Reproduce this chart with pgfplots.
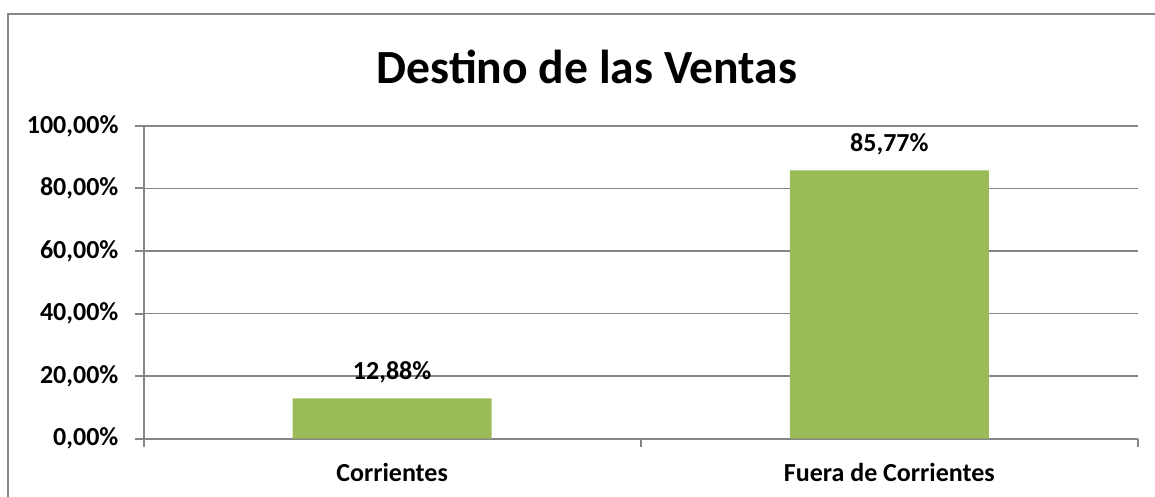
\documentclass[border=0pt]{standalone}
\usepackage{pgfplots}
\pgfplotsset{compat=1.18}
\usepackage{fontspec}
\setmainfont{Carlito}
\definecolor{bargreen}{HTML}{9BBB59}
\definecolor{gridgray}{HTML}{868686}
\begin{document}
\begin{tikzpicture}
\useasboundingbox (0,0) rectangle (577.5pt,-248.5pt);
\draw[gridgray, line width=1pt] (4pt,-260pt) -- (4pt,-7pt) -- (590pt,-7pt);
\node[font=\fontsize{23.8}{28}\selectfont\bfseries] at (293.5pt,-33.5pt) {Destino de las Ventas};
\begin{axis}[
  at={(71.75pt,-219.25pt)}, anchor=south west,
  scale only axis, width=497.25pt, height=156.25pt,
  xmin=-0.5, xmax=1.5, ymin=0, ymax=100,
  axis x line=bottom, axis y line=left,
  axis line style={-, gridgray, line width=1pt},
  tick style={gridgray, line width=1pt},
  tick align=outside, major tick length=4pt,
  ytick={0,20,40,60,80,100},
  yticklabels={{0,00\%},{20,00\%},{40,00\%},{60,00\%},{80,00\%},{100,00\%}},
  y tick label style={xshift=-5pt},
  ymajorgrids, grid style={gridgray, line width=0.8pt},
  xtick={-0.5,0.5,1.5}, xticklabels={},
  extra x ticks={0,1},
  extra x tick labels={Corrientes, Fuera de Corrientes},
  extra x tick style={major tick length=0pt, grid=none, tick label style={yshift=-9pt}},
  tick label style={font=\fontsize{13}{15}\selectfont\bfseries},
  /pgf/number format/assume math mode=true,
  ybar, bar width=99.5pt,
]
\addplot[fill=bargreen, draw=none,
  nodes near coords={\pgfmathprintnumber[fixed,fixed zerofill,precision=2,use comma]{\pgfplotspointmeta}\%},
  nodes near coords style={font=\fontsize{13}{15}\selectfont\bfseries, anchor=center, yshift=13pt, text=black}]
  coordinates {(0,12.88) (1,85.77)};
\end{axis}
\end{tikzpicture}
\end{document}
